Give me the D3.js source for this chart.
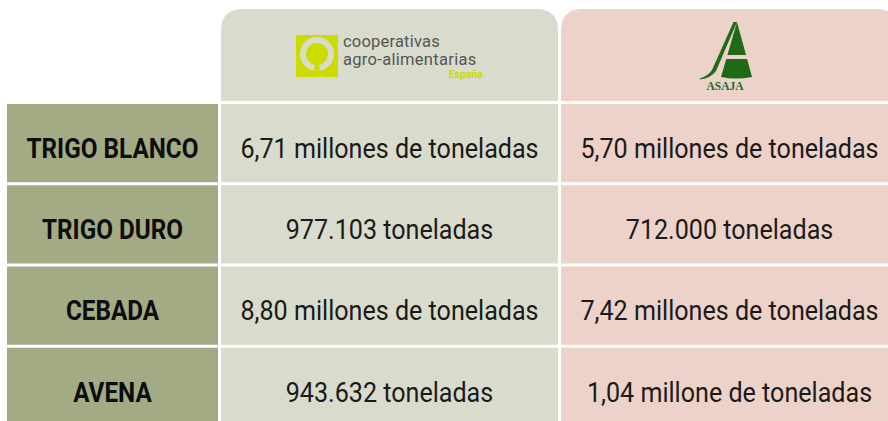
<!DOCTYPE html>
<html>
<head>
<meta charset="utf-8">
<script src="https://cdn.jsdelivr.net/npm/d3@7"></script>
<style>
  html, body { margin: 0; padding: 0; background: #ffffff; }
  svg { display: block; }
</style>
</head>
<body>
<div id="chart"></div>
<script>
// ---- data ----
const categories = ["TRIGO BLANCO", "TRIGO DURO", "CEBADA", "AVENA"];
const cooperativas = ["6,71 millones de toneladas", "977.103 toneladas", "8,80 millones de toneladas", "943.632 toneladas"];
const asaja = ["5,70 millones de toneladas", "712.000 toneladas", "7,42 millones de toneladas", "1,04 millone de toneladas"];
const sources = ["cooperativas", "asaja"];

// ---- layout ----
const W = 888, H = 421;
const colGreen = "#a3ab84", colGrey = "#d9dbcc", colPink = "#ecd2c9";
const svg = d3.select("#chart").append("svg").attr("width", W).attr("height", H);

const firstCol = { x0: 7, x1: 218 };
const x = d3.scaleBand().domain(sources).range([221, 898]).paddingInner(3 / 338.5);
const y = d3.scaleBand().domain(categories).range([104, 426]).paddingInner(0.037);
const fills = { cooperativas: colGrey, asaja: colPink };
const values = { cooperativas, asaja };

// header tabs with rounded top corners
const hTop = 9, hBot = 101, r = 22;
function tabPath(x0, x1) {
  return `M${x0},${hBot} L${x0},${hTop + r} Q${x0},${hTop} ${x0 + r},${hTop} L${x1 - r},${hTop} Q${x1},${hTop} ${x1},${hTop + r} L${x1},${hBot} Z`;
}
svg.selectAll("path.tab").data(sources).join("path")
  .attr("class", "tab")
  .attr("d", s => tabPath(x(s), x(s) + x.bandwidth()))
  .attr("fill", s => fills[s]);

// row label cells
svg.selectAll("rect.lab").data(categories).join("rect")
  .attr("class", "lab")
  .attr("x", firstCol.x0).attr("width", firstCol.x1 - firstCol.x0)
  .attr("y", d => y(d)).attr("height", y.bandwidth())
  .attr("fill", colGreen);

svg.selectAll("text.lab").data(categories).join("text")
  .attr("class", "lab")
  .attr("transform", d => `translate(${(firstCol.x0 + firstCol.x1) / 2},${y(d) + y.bandwidth() * 0.69}) scale(0.9,1)`)
  .attr("text-anchor", "middle")
  .attr("font-family", "Roboto, 'DejaVu Sans', sans-serif")
  .attr("font-weight", 700)
  .attr("font-size", 27)
  .attr("fill", "#0d0d0d")
  .text(d => d);

// value cells
sources.forEach(s => {
  const g = svg.append("g");
  g.selectAll("rect").data(categories).join("rect")
    .attr("x", x(s)).attr("width", x.bandwidth())
    .attr("y", d => y(d)).attr("height", y.bandwidth())
    .attr("fill", fills[s]);
  g.selectAll("text").data(categories).join("text")
    .attr("transform", (d) => `translate(${x(s) + x.bandwidth() / 2},${y(d) + y.bandwidth() * 0.69}) scale(0.93,1)`)
    .attr("text-anchor", "middle")
    .attr("font-family", "Roboto, 'DejaVu Sans', sans-serif")
    .attr("font-weight", 400)
    .attr("font-size", 27)
    .attr("fill", "#1a1a1a")
    .text((d, i) => values[s][i]);
});

// ---- logo: cooperativas agro-alimentarias ----
const lime = "#cddc00";
const lg = svg.append("g");
lg.append("rect").attr("x", 296).attr("y", 35).attr("width", 42).attr("height", 42).attr("fill", lime);
lg.append("circle").attr("cx", 317).attr("cy", 54).attr("r", 17).attr("fill", colGrey);
lg.append("circle").attr("cx", 317).attr("cy", 54).attr("r", 11).attr("fill", lime);
lg.append("rect").attr("x", 314.5).attr("y", 60).attr("width", 5).attr("height", 17).attr("fill", lime);
lg.append("text").attr("x", 343).attr("y", 46.5).attr("font-family", "Roboto, sans-serif")
  .attr("font-size", 16.5).attr("fill", "#555555").attr("letter-spacing", 0.2).text("cooperativas");
lg.append("text").attr("x", 343).attr("y", 65).attr("font-family", "Roboto, sans-serif")
  .attr("font-size", 16.5).attr("fill", "#555555").attr("letter-spacing", 0.3).text("agro-alimentarias");
lg.append("text").attr("x", 483).attr("y", 78).attr("text-anchor", "end").attr("font-family", "Roboto, sans-serif")
  .attr("font-size", 10.5).attr("font-weight", 700).attr("fill", lime).text("España");

// ---- logo: ASAJA ----
const dg = "#1f6a17";
const ag = svg.append("g");
ag.append("path").attr("d", "M737,22 L721,77 Q736,80 752,77 Z").attr("fill", dg);
ag.append("rect").attr("x", 715).attr("y", 55).attr("width", 40).attr("height", 4).attr("fill", colPink);
ag.append("path").attr("d", "M733.5,22 L737,22 L716,71 Q711,78 700,79.5 L700,78.5 Q708,76 712,70 Z").attr("fill", dg);
ag.append("text").attr("x", 725).attr("y", 90).attr("text-anchor", "middle")
  .attr("font-family", "'Liberation Serif', 'DejaVu Serif', serif").attr("font-weight", 700)
  .attr("font-size", 11.5).attr("fill", dg).text("ASAJA");
</script>
</body>
</html>
